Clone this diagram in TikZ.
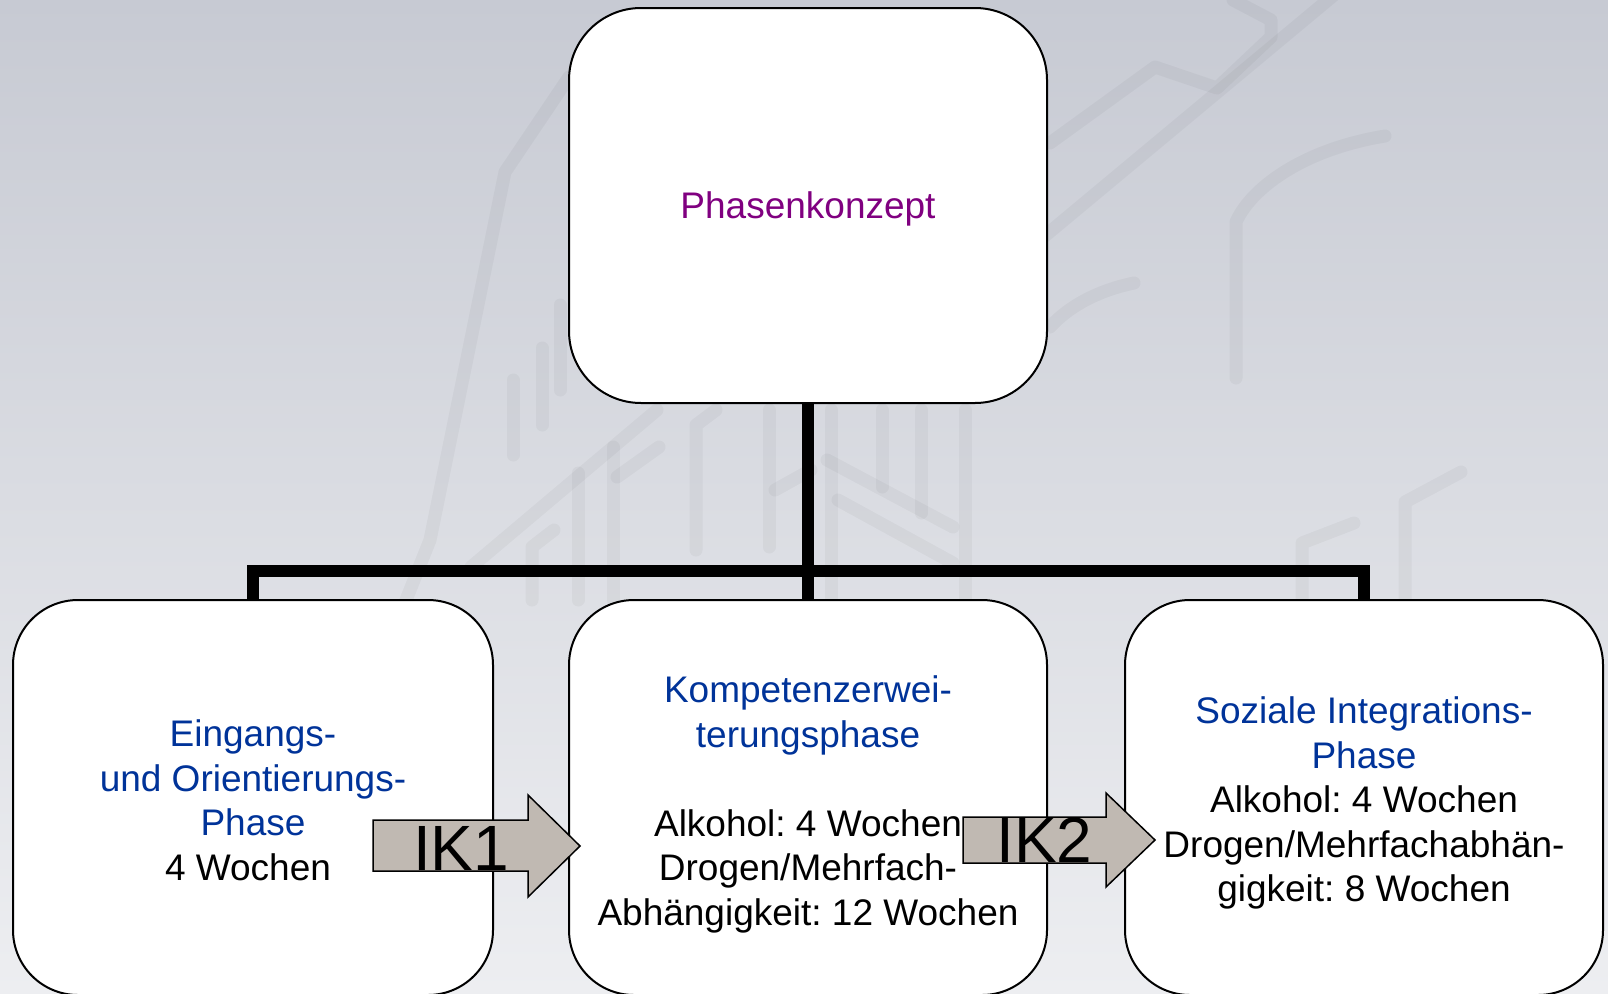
\documentclass[tikz,border=0pt]{standalone}
\usepackage{fontspec}
\setmainfont{Liberation Sans}
\frenchspacing
\definecolor{bgtop}{RGB}{199,202,211}
\definecolor{bgbot}{RGB}{237,238,241}
\definecolor{phblue}{RGB}{0,51,153}
\definecolor{phpurple}{RGB}{128,0,128}
\definecolor{arrowfill}{RGB}{192,185,178}
\begin{document}
\begin{tikzpicture}[x=1pt,y=-1pt,
  box/.style={draw=black, line width=2pt, fill=white, rounded corners=65pt,
    minimum width=478pt, minimum height=395pt, inner sep=0pt, outer sep=0pt},
  conn/.style={line width=12pt, black},
  wm/.style={line width=13pt, line cap=round, line join=round, black, opacity=0.035},
  ik/.style={draw=black, line width=1.5pt, fill=arrowfill},
  txt/.style={inner sep=0pt, align=center, font=\fontsize{37}{44.5}\selectfont},
  iklabel/.style={inner sep=0pt, anchor=base west, font=\fontsize{64}{70}\selectfont}]
\useasboundingbox (0,0) rectangle (1608,993);
\clip (0,0) rectangle (1608,993);
\shade[top color=bgtop, bottom color=bgbot] (0,0) rectangle (1608,993);
% watermark
\draw[wm] (569,77) -- (505,172) -- (430,540) -- (398,620);
\draw[wm] (513,380) -- (513,455);
\draw[wm] (542,348) -- (542,425);
\draw[wm] (560,305) -- (560,390);
\draw[wm] (657,410) -- (471,567);
\draw[wm] (659,447) -- (617,477);
\draw[wm] (613,447) -- (613,600);
\draw[wm] (578,473) -- (578,600);
\draw[wm] (554,530) -- (532,547) -- (532,600);
\draw[wm] (716,410) -- (696,425) -- (696,550);
\draw[wm] (769,410) -- (769,547);
\draw[wm] (775,490) -- (811,470);
\draw[wm] (831,410) -- (831,600);
\draw[wm] (882,410) -- (882,487);
\draw[wm] (921,410) -- (921,513);
\draw[wm] (965,410) -- (965,600);
\draw[wm] (827,460) -- (953,527);
\draw[wm] (838,500) -- (953,563);
\draw[wm] (1385,136) .. controls (1300,150) and (1250,190) .. (1236,222) -- (1236,378);
\draw[wm] (1340,-10) -- (1040,240);
\draw[wm] (1050,143) -- (1155,67) -- (1217,88) -- (1271,37) -- (1271,20) -- (1233,0);
\draw[wm] (1134,283) .. controls (1100,290) and (1070,305) .. (1050,327);
\draw[wm] (1461,472) -- (1405,502) -- (1405,605);
\draw[wm] (1354,523) -- (1302,543) -- (1302,605);
% boxes
\node[box, rounded corners=72pt] (top) at (808,205.5) {};
\node[box, minimum width=480pt] (left) at (253,797.5) {};
\node[box] (mid) at (808,797.5) {};
\node[box] (right) at (1364,797.5) {};
% connectors
\coordinate (bar) at (808,571);
\draw[conn] (top.south) -- (mid.north);
\draw[conn] (left.north) |- (bar) -| (right.north);
% texts
\node[txt, anchor=base, text=phpurple] (ph) at (808,218) {Phasenkonzept};
\node[txt, anchor=north] (lt) at (253,719.5) {\textcolor{phblue}{Eingangs-}\\\textcolor{phblue}{und Orientierungs-}\\\textcolor{phblue}{Phase}\hspace*{10pt}\\4 Wochen\hspace*{10pt}};
\node[txt, anchor=north] (mt) at (808,675.5) {\textcolor{phblue}{Kompetenzerwei-}\\\textcolor{phblue}{terungsphase}\\[44.5pt]Alkohol: 4 Wochen\\Drogen/Mehrfach-\\Abhängigkeit: 12 Wochen};
\node[txt, anchor=north] (rt) at (1364,696.5) {\textcolor{phblue}{Soziale Integrations-}\\\textcolor{phblue}{Phase}\\Alkohol: 4 Wochen\\Drogen/Mehrfachabhän-\\gigkeit: 8 Wochen};
% transition arrows
\draw[ik] (373,820) -- (528,820) -- (528,795) -- (580,846) -- (528,897) -- (528,871) -- (373,871) -- cycle;
\node[iklabel] (ik1) at (413,870) {IK1};
\draw[ik] (963,817) -- (1106,817) -- (1106,793) -- (1155,840) -- (1106,887) -- (1106,863) -- (963,863) -- cycle;
\node[iklabel] (ik2) at (996,862) {IK2};
\end{tikzpicture}
\end{document}
